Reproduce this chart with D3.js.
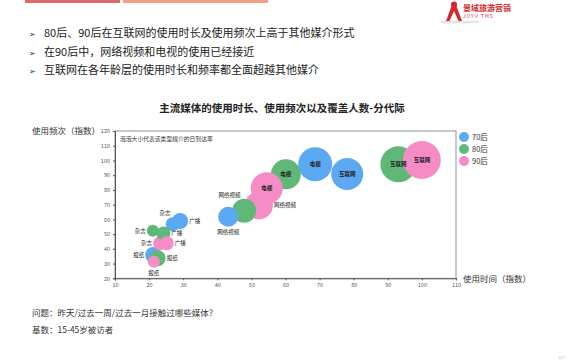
<!DOCTYPE html>
<html><head><meta charset="utf-8">
<script src="https://cdn.jsdelivr.net/npm/d3@7"></script>
<style>body{margin:0;background:#fff}svg{display:block}text{font-family:"Noto Sans CJK SC","Noto Sans",sans-serif}</style>
</head><body>
<script>
// ---- data ----
const generations = ["70后", "80后", "90后"];
const media = ["报纸", "杂志", "广播", "网络视频", "电视", "互联网"];
// usage time index (x) per generation, in media order
const time70 = [21.2, 26.9, 29.1, 43.2, 68.7, 78.1];
const time80 = [22.5, 21.1, 24.2, 47.9, 60.1, 93.1];
const time90 = [21.4, 23.2, 25.2, 52.2, 54.5, 100.0];
// usage frequency index (y)
const freq70 = [35.8, 56.7, 58.9, 61.8, 97.4, 90.8];
const freq80 = [33.6, 52.3, 50.5, 65.9, 90.6, 97.4];
const freq90 = [31.3, 43.8, 43.8, 69.5, 81.1, 100.3];
// daily reach (bubble size)
const reach70 = [16, 12, 16, 25, 72, 64];
const reach80 = [16, 9, 12, 36, 56, 81];
const reach90 = [9, 12, 12, 49, 64, 90];
const xTicks = [10, 20, 30, 40, 50, 60, 70, 80, 90, 100, 110];
const yTicks = [20, 30, 40, 50, 60, 70, 80, 90, 100, 110, 120];
const bullets = ["80后、90后在互联网的使用时长及使用频次上高于其他媒介形式",
                 "在90后中，网络视频和电视的使用已经接近",
                 "互联网在各年龄层的使用时长和频率都全面超越其他媒介"];
const title = "主流媒体的使用时长、使用频次以及覆盖人数-分代际";
const note = "泡泡大小代表该类型媒介的日到达率";
const footLines = ["问题：昨天/过去一周/过去一月接触过哪些媒体？", "基数：15-45岁被访者"];

const colors = {"70后": "#5aa9f2", "80后": "#5fb878", "90后": "#f58cc6"};
// label placement (style): "c" centre, "l" left, "r" right, "t" top-left, "b" below
const labelPos = {
  "70后": ["l", "t", "r", "b", "c", "c"],
  "80后": ["r", "l", "r", "t", "c", "c"],
  "90后": ["b", "l", "r", "r", "c", "c"]
};

const W = 570, H = 360;
const svg = d3.select("body").append("svg").attr("width", W).attr("height", H);

// top decorative bars
svg.append("rect").attr("x", 25).attr("y", 0).attr("width", 95).attr("height", 3).attr("fill", "#e0676a");
svg.append("rect").attr("x", 123).attr("y", 0).attr("width", 145).attr("height", 3).attr("fill", "#f2a083");

// logo
const logo = svg.append("g");
logo.append("path").attr("d", "M452,5 L446,21 L449.5,21 L454,11 L458.5,21 L462,21 L456,5 Z").attr("fill", "#d8262c");
logo.append("circle").attr("cx", 454).attr("cy", 4.5).attr("r", 3).attr("fill", "#d8262c");
logo.append("text").attr("x", 463).attr("y", 11).attr("font-size", 8).attr("font-weight", "bold").attr("fill", "#d8262c").text("景域旅游营销");
logo.append("text").attr("x", 463).attr("y", 17.5).attr("font-size", 4.8).attr("fill", "#d8262c").attr("letter-spacing", 1).text("JOYU TMS");
logo.append("text").attr("x", 441).attr("y", 22.5).attr("font-size", 2.5).attr("fill", "#bbb").text("中国旅游目的地整合营销服务机构");

// bullets
bullets.forEach((b, i) => {
  const y = 36 + i * 18.5;
  svg.append("text").attr("x", 29).attr("y", y + 1).attr("font-size", 8).attr("fill", "#333").text("➢");
  svg.append("text").attr("x", 44).attr("y", y + 1).attr("font-size", 11).attr("fill", "#222").text(b);
});

// title
svg.append("text").attr("x", 282).attr("y", 112).attr("text-anchor", "middle").attr("font-size", 10.5)
  .attr("font-weight", "bold").attr("fill", "#222").text(title);

// scales
const x = d3.scaleLinear().domain([10, 110]).range([115, 456]);
const y = d3.scaleLinear().domain([20, 120]).range([278.3, 131]);
const r = d3.scaleSqrt().domain([0, 100]).range([0, 20]);

// frame
svg.append("rect").attr("x", 115).attr("y", 131).attr("width", 341).attr("height", 147.3)
  .attr("fill", "none").attr("stroke", "#777").attr("stroke-width", 0.8);

const gx = svg.append("g").attr("transform", "translate(0,278.3)")
  .call(d3.axisBottom(x).tickValues(xTicks).tickSize(2).tickPadding(3));
const gy = svg.append("g").attr("transform", "translate(115,0)")
  .call(d3.axisLeft(y).tickValues(yTicks).tickSize(2).tickPadding(3));
[gx, gy].forEach(g => {
  g.select(".domain").attr("stroke", "#555").attr("stroke-width", 1);
  g.selectAll(".tick line").attr("stroke", "#555");
  g.selectAll(".tick text").attr("font-size", 5.5).attr("fill", "#555");
});

// axis labels
svg.append("text").attr("x", 32).attr("y", 134).attr("font-size", 8.5).attr("fill", "#333").text("使用频次（指数）");
svg.append("text").attr("x", 463).attr("y", 282).attr("font-size", 8.5).attr("fill", "#333").text("使用时间（指数）");
svg.append("text").attr("x", 120).attr("y", 141).attr("font-size", 5.8).attr("fill", "#333").text(note);

// bubbles
const series = {
  "70后": {t: time70, f: freq70, s: reach70},
  "80后": {t: time80, f: freq80, s: reach80},
  "90后": {t: time90, f: freq90, s: reach90}
};
const pts = [];
generations.forEach(g => media.forEach((m, i) => pts.push({g, m, i, t: series[g].t[i], f: series[g].f[i], s: series[g].s[i], pos: labelPos[g][i]})));
// draw order: by media, 90后 first within 网络视频 so it sits behind
const order = (p) => media.indexOf(p.m) * 10 + (p.m === "网络视频" ? (2 - generations.indexOf(p.g)) : generations.indexOf(p.g));
pts.sort((a, b) => order(a) - order(b));

svg.append("g").selectAll("circle").data(pts).join("circle")
  .attr("cx", d => x(d.t)).attr("cy", d => y(d.f)).attr("r", d => r(d.s))
  .attr("fill", d => colors[d.g]);

const lab = svg.append("g");
pts.forEach(d => {
  const cx = x(d.t), cy = y(d.f), rr = r(d.s);
  let tx = cx, ty = cy + 2, anchor = "middle";
  if (d.pos === "l") { tx = cx - rr - 1; anchor = "end"; }
  if (d.pos === "r") { tx = cx + rr + 1; anchor = "start"; }
  if (d.pos === "t") { tx = cx - rr * 0.3; ty = cy - rr - 2; anchor = "end"; }
  if (d.pos === "b") { ty = cy + rr + 7; }
  lab.append("text").attr("x", tx).attr("y", ty).attr("text-anchor", anchor)
    .attr("font-size", 5.5).attr("fill", "#222").attr("font-weight", d.pos === "c" ? "bold" : "normal").text(d.m);
});

// legend
generations.forEach((g, i) => {
  svg.append("circle").attr("cx", 464).attr("cy", 137 + i * 12).attr("r", 5).attr("fill", colors[g]);
  svg.append("text").attr("x", 472).attr("y", 140 + i * 12).attr("font-size", 7.5).attr("fill", "#333").text(g);
});

// footer
footLines.forEach((t, i) => {
  svg.append("text").attr("x", 32).attr("y", 316 + i * 16.5).attr("font-size", 8.5).attr("fill", "#333").text(t);
});
svg.append("text").attr("x", 565).attr("y", 359).attr("text-anchor", "end").attr("font-size", 4).attr("fill", "#bbb").text("317");
</script>
</body></html>
